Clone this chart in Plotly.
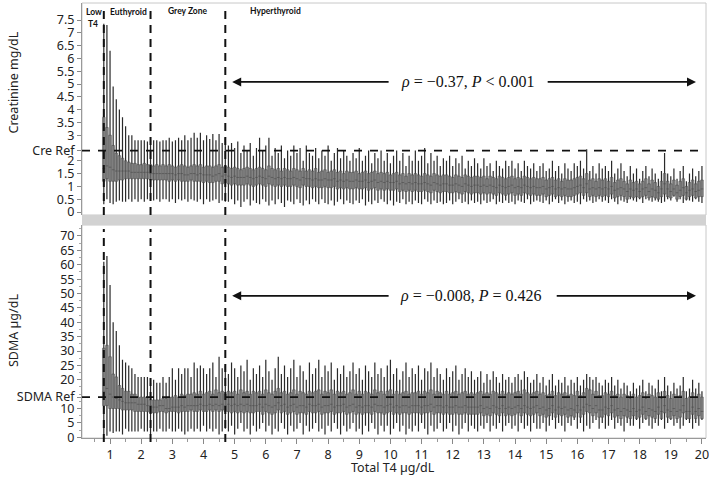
import plotly.graph_objects as go

# ---------------- data ----------------
t4 = [0.8, 0.9, 1.0, 1.1, 1.2, 1.3, 1.4, 1.5, 1.6, 1.7,
      1.8, 1.9, 2.0, 2.1, 2.2, 2.3, 2.4, 2.5, 2.6, 2.7,
      2.8, 2.9, 3.0, 3.1, 3.2, 3.3, 3.4, 3.5, 3.6, 3.7,
      3.8, 3.9, 4.0, 4.1, 4.2, 4.3, 4.4, 4.5, 4.6, 4.7,
      4.8, 4.9, 5.0, 5.1, 5.2, 5.3, 5.4, 5.5, 5.6, 5.7,
      5.8, 5.9, 6.0, 6.1, 6.2, 6.3, 6.4, 6.5, 6.6, 6.7,
      6.8, 6.9, 7.0, 7.1, 7.2, 7.3, 7.4, 7.5, 7.6, 7.7,
      7.8, 7.9, 8.0, 8.1, 8.2, 8.3, 8.4, 8.5, 8.6, 8.7,
      8.8, 8.9, 9.0, 9.1, 9.2, 9.3, 9.4, 9.5, 9.6, 9.7,
      9.8, 9.9, 10.0, 10.1, 10.2, 10.3, 10.4, 10.5, 10.6, 10.7,
      10.8, 10.9, 11.0, 11.1, 11.2, 11.3, 11.4, 11.5, 11.6, 11.7,
      11.8, 11.9, 12.0, 12.1, 12.2, 12.3, 12.4, 12.5, 12.6, 12.7,
      12.8, 12.9, 13.0, 13.1, 13.2, 13.3, 13.4, 13.5, 13.6, 13.7,
      13.8, 13.9, 14.0, 14.1, 14.2, 14.3, 14.4, 14.5, 14.6, 14.7,
      14.8, 14.9, 15.0, 15.1, 15.2, 15.3, 15.4, 15.5, 15.6, 15.7,
      15.8, 15.9, 16.0, 16.1, 16.2, 16.3, 16.4, 16.5, 16.6, 16.7,
      16.8, 16.9, 17.0, 17.1, 17.2, 17.3, 17.4, 17.5, 17.6, 17.7,
      17.8, 17.9, 18.0, 18.1, 18.2, 18.3, 18.4, 18.5, 18.6, 18.7,
      18.8, 18.9, 19.0, 19.1, 19.2, 19.3, 19.4, 19.5, 19.6, 19.7,
      19.8, 19.9, 20.0]

# Creatinine (mg/dL) per T4 bin
cre_max = [7.35, 7.3, 6.3, 4.9, 4.4, 4.0, 3.7, 3.35, 3.0, 3.0,
           2.8, 2.8, 2.8, 2.8, 2.75, 2.8, 2.8, 2.8, 2.75, 2.8,
           2.8, 2.9, 2.75, 2.8, 2.9, 2.8, 3.0, 2.8, 2.9, 3.1,
           2.9, 3.1, 2.8, 3.0, 2.85, 3.05, 2.8, 3.05, 2.7, 2.9,
           2.6, 2.7, 2.5, 2.75, 2.3, 2.6, 2.4, 2.7, 2.2, 2.5,
           2.9, 2.4, 2.6, 2.9, 2.2, 2.5, 2.3, 2.6, 2.1, 2.4,
           2.2, 2.6, 2.3, 2.5, 2.0, 2.6, 2.3, 2.2, 2.5, 2.1,
           2.4, 2.2, 2.6, 2.0, 2.3, 2.5, 2.1, 2.4, 2.2, 2.0,
           2.3, 2.1, 2.5, 2.0, 2.2, 2.4, 1.9, 2.3, 2.1, 2.4,
           2.0, 2.3, 1.9, 2.2, 2.4, 2.0, 2.3, 1.8, 2.2, 2.0,
           2.4, 2.0, 2.2, 2.5, 1.9, 2.3, 2.0, 2.2, 1.8, 2.1,
           2.0, 2.2, 1.8, 2.1, 1.9, 2.2, 1.7, 2.0, 1.8, 2.1,
           1.9, 1.7, 2.1, 1.8, 1.9, 1.6, 2.0, 1.8, 1.7, 2.0,
           1.8, 2.0, 1.7, 1.9, 1.6, 2.0, 1.8, 1.7, 1.9, 1.6,
           1.8, 1.9, 1.6, 1.7, 2.0, 1.6, 1.8, 1.5, 1.9, 1.7,
           1.6, 1.9, 1.8, 2.0, 1.7, 2.45, 1.6, 1.8, 1.5, 1.9,
           1.7, 1.8, 1.6, 2.0, 1.5, 1.7, 1.9, 1.6, 1.4, 1.8,
           1.5, 1.7, 1.3, 1.6, 1.8, 1.4, 1.7, 1.5, 1.3, 1.6,
           2.3, 1.5, 1.4, 1.7, 1.3, 1.6, 1.8, 1.2, 1.5, 1.7,
           1.4, 1.6, 1.8]
cre_q3 = [3.7, 3.3, 3.0, 2.6, 2.3, 2.2, 2.1, 2.0, 1.95, 1.9,
          1.9, 1.85, 1.85, 1.9, 1.85, 1.85, 1.8, 1.85, 1.8, 1.85,
          1.8, 1.85, 1.8, 1.75, 1.8, 1.85, 1.8, 1.75, 1.8, 1.85,
          1.8, 1.85, 1.75, 1.8, 1.8, 1.75, 1.8, 1.85, 1.75, 1.8,
          1.75, 1.7, 1.75, 1.7, 1.65, 1.7, 1.75, 1.7, 1.65, 1.7,
          1.75, 1.7, 1.65, 1.8, 1.7, 1.65, 1.7, 1.6, 1.7, 1.65,
          1.6, 1.7, 1.65, 1.6, 1.7, 1.6, 1.65, 1.6, 1.7, 1.55,
          1.6, 1.65, 1.55, 1.6, 1.65, 1.55, 1.6, 1.5, 1.6, 1.55,
          1.55, 1.6, 1.5, 1.55, 1.6, 1.5, 1.55, 1.6, 1.5, 1.55,
          1.5, 1.55, 1.45, 1.5, 1.55, 1.45, 1.5, 1.4, 1.5, 1.45,
          1.5, 1.45, 1.4, 1.5, 1.45, 1.4, 1.5, 1.45, 1.4, 1.45,
          1.45, 1.4, 1.35, 1.45, 1.4, 1.35, 1.45, 1.4, 1.35, 1.4,
          1.4, 1.35, 1.4, 1.3, 1.4, 1.35, 1.3, 1.4, 1.35, 1.3,
          1.35, 1.4, 1.3, 1.35, 1.3, 1.4, 1.35, 1.3, 1.35, 1.3,
          1.3, 1.35, 1.25, 1.3, 1.35, 1.25, 1.3, 1.2, 1.3, 1.25,
          1.25, 1.3, 1.35, 1.4, 1.3, 1.5, 1.25, 1.3, 1.2, 1.3,
          1.25, 1.3, 1.2, 1.35, 1.15, 1.25, 1.3, 1.2, 1.1, 1.25,
          1.15, 1.2, 1.1, 1.2, 1.3, 1.1, 1.25, 1.15, 1.0, 1.2,
          1.5, 1.2, 1.1, 1.25, 1.05, 1.2, 1.3, 1.0, 1.15, 1.25,
          1.1, 1.2, 1.25]
cre_med = [1.7, 1.8, 1.75, 1.65, 1.6, 1.6, 1.6, 1.6, 1.6, 1.55,
           1.55, 1.55, 1.55, 1.55, 1.55, 1.5, 1.5, 1.5, 1.5, 1.5,
           1.5, 1.5, 1.5, 1.45, 1.5, 1.5, 1.45, 1.45, 1.5, 1.5,
           1.45, 1.5, 1.45, 1.45, 1.45, 1.4, 1.45, 1.5, 1.4, 1.45,
           1.4, 1.35, 1.4, 1.35, 1.35, 1.35, 1.4, 1.35, 1.3, 1.35,
           1.4, 1.35, 1.3, 1.4, 1.35, 1.3, 1.35, 1.3, 1.35, 1.3,
           1.3, 1.35, 1.3, 1.25, 1.35, 1.3, 1.3, 1.25, 1.3, 1.25,
           1.25, 1.3, 1.25, 1.25, 1.3, 1.2, 1.25, 1.2, 1.25, 1.2,
           1.2, 1.25, 1.2, 1.2, 1.25, 1.15, 1.2, 1.25, 1.15, 1.2,
           1.15, 1.2, 1.15, 1.15, 1.2, 1.1, 1.15, 1.1, 1.15, 1.1,
           1.15, 1.1, 1.1, 1.15, 1.1, 1.05, 1.15, 1.1, 1.05, 1.1,
           1.1, 1.05, 1.05, 1.1, 1.05, 1.0, 1.1, 1.05, 1.0, 1.05,
           1.05, 1.0, 1.05, 1.0, 1.05, 1.0, 0.95, 1.05, 1.0, 0.95,
           1.0, 1.05, 0.95, 1.0, 0.95, 1.05, 1.0, 0.95, 1.0, 0.95,
           0.95, 1.0, 0.9, 0.95, 1.0, 0.9, 0.95, 0.9, 0.95, 0.9,
           0.9, 0.95, 1.0, 1.05, 0.95, 1.1, 0.9, 0.95, 0.9, 0.95,
           0.9, 0.95, 0.9, 1.0, 0.85, 0.9, 0.95, 0.9, 0.8, 0.9,
           0.85, 0.9, 0.8, 0.9, 0.95, 0.8, 0.9, 0.85, 0.75, 0.9,
           1.1, 0.9, 0.8, 0.9, 0.75, 0.85, 0.95, 0.75, 0.85, 0.9,
           0.8, 0.85, 0.9]
cre_q1 = [1.2, 1.3, 1.2, 1.2, 1.2, 1.25, 1.25, 1.3, 1.3, 1.3,
          1.3, 1.3, 1.3, 1.3, 1.3, 1.25, 1.25, 1.25, 1.25, 1.25,
          1.25, 1.2, 1.25, 1.2, 1.25, 1.2, 1.2, 1.2, 1.25, 1.2,
          1.2, 1.2, 1.15, 1.2, 1.15, 1.15, 1.2, 1.2, 1.1, 1.15,
          1.1, 1.05, 1.1, 1.05, 1.05, 1.05, 1.1, 1.05, 1.0, 1.05,
          1.1, 1.05, 1.0, 1.1, 1.05, 1.0, 1.05, 1.0, 1.05, 1.0,
          1.0, 1.05, 1.0, 0.95, 1.05, 1.0, 1.0, 0.95, 1.0, 0.95,
          0.95, 1.0, 0.95, 0.95, 1.0, 0.9, 0.95, 0.9, 0.95, 0.9,
          0.9, 0.95, 0.9, 0.9, 0.95, 0.85, 0.9, 0.95, 0.85, 0.9,
          0.85, 0.9, 0.85, 0.85, 0.9, 0.8, 0.85, 0.8, 0.85, 0.8,
          0.85, 0.8, 0.8, 0.85, 0.8, 0.75, 0.85, 0.8, 0.75, 0.8,
          0.8, 0.75, 0.75, 0.8, 0.75, 0.7, 0.8, 0.75, 0.7, 0.75,
          0.75, 0.7, 0.75, 0.7, 0.75, 0.7, 0.65, 0.75, 0.7, 0.65,
          0.7, 0.75, 0.65, 0.7, 0.65, 0.75, 0.7, 0.65, 0.7, 0.65,
          0.65, 0.7, 0.6, 0.65, 0.7, 0.6, 0.65, 0.6, 0.65, 0.6,
          0.6, 0.65, 0.7, 0.75, 0.65, 0.75, 0.6, 0.65, 0.6, 0.65,
          0.6, 0.65, 0.6, 0.7, 0.55, 0.6, 0.65, 0.6, 0.5, 0.6,
          0.55, 0.6, 0.55, 0.6, 0.65, 0.55, 0.6, 0.55, 0.5, 0.6,
          0.7, 0.6, 0.55, 0.65, 0.5, 0.6, 0.65, 0.5, 0.6, 0.65,
          0.55, 0.6, 0.6]
cre_min = [0.3, 0.5, 0.35, 0.3, 0.4, 0.45, 0.4, 0.4, 0.5, 0.4,
           0.5, 0.4, 0.5, 0.4, 0.5, 0.5, 0.45, 0.5, 0.4, 0.5,
           0.5, 0.4, 0.5, 0.35, 0.5, 0.45, 0.5, 0.4, 0.5, 0.45,
           0.4, 0.5, 0.3, 0.5, 0.4, 0.45, 0.5, 0.35, 0.45, 0.4,
           0.4, 0.5, 0.3, 0.45, 0.2, 0.4, 0.5, 0.25, 0.45, 0.35,
           0.3, 0.5, 0.4, 0.25, 0.45, 0.3, 0.5, 0.35, 0.2, 0.45,
           0.4, 0.3, 0.5, 0.35, 0.25, 0.45, 0.3, 0.5, 0.4, 0.3,
           0.5, 0.35, 0.3, 0.45, 0.25, 0.4, 0.5, 0.3, 0.45, 0.35,
           0.3, 0.45, 0.35, 0.5, 0.25, 0.4, 0.3, 0.45, 0.35, 0.5,
           0.4, 0.3, 0.45, 0.25, 0.4, 0.35, 0.5, 0.3, 0.4, 0.3,
           0.45, 0.35, 0.3, 0.5, 0.4, 0.3, 0.45, 0.35, 0.4, 0.3,
           0.35, 0.45, 0.3, 0.4, 0.5, 0.35, 0.4, 0.3, 0.45, 0.35,
           0.4, 0.3, 0.45, 0.35, 0.4, 0.5, 0.3, 0.4, 0.35, 0.45,
           0.35, 0.4, 0.3, 0.45, 0.4, 0.35, 0.5, 0.3, 0.4, 0.45,
           0.4, 0.35, 0.45, 0.3, 0.4, 0.5, 0.35, 0.45, 0.3, 0.4,
           0.45, 0.35, 0.4, 0.3, 0.5, 0.4, 0.45, 0.35, 0.4, 0.5,
           0.4, 0.45, 0.35, 0.5, 0.4, 0.3, 0.45, 0.4, 0.35, 0.5,
           0.45, 0.4, 0.5, 0.35, 0.5, 0.45, 0.4, 0.45, 0.4, 0.35,
           0.4, 0.5, 0.45, 0.6, 0.4, 0.5, 0.35, 0.45, 0.45, 0.4,
           0.5, 0.4, 0.35]

# SDMA (ug/dL) per T4 bin
sd_max = [61, 63, 53, 40, 37, 32, 27, 26, 25, 24,
          22, 21, 21, 21, 21, 19, 20, 19, 19, 21,
          19, 21, 24, 20, 24, 22, 24, 24, 21, 26,
          24, 25, 24, 22, 24, 26, 21, 28, 24, 25,
          22, 26, 24, 21, 25, 23, 27, 20, 24, 22,
          25, 21, 27, 23, 20, 24, 28, 22, 25, 21,
          24, 27, 21, 25, 23, 20, 26, 22, 24, 27,
          21, 25, 23, 26, 20, 24, 22, 25, 21, 23,
          26, 22, 24, 20, 25, 23, 21, 26, 22, 24,
          21, 25, 27, 22, 24, 20, 23, 26, 21, 24,
          22, 25, 20, 24, 23, 26, 21, 24, 22, 20,
          24, 21, 23, 25, 20, 22, 24, 21, 23, 20,
          21, 23, 19, 22, 20, 23, 21, 19, 22, 20,
          21, 19, 21, 22, 20, 23, 21, 19, 20, 22,
          19, 21, 18, 20, 22, 18, 20, 19, 21, 18,
          20, 19, 21, 18, 20, 22, 21, 20, 21, 19,
          18, 20, 19, 21, 18, 20, 17, 19, 18, 16,
          19, 17, 18, 20, 16, 19, 18, 17, 20, 16,
          21, 18, 16, 19, 17, 18, 21, 16, 17, 20,
          17, 19, 16]
sd_q3 = [31, 32, 28, 22, 21, 18, 17, 16, 16, 15,
         15, 14, 14, 14, 14, 13, 13, 13, 13, 13.5,
         13.5, 14, 14, 14.5, 14, 15, 14.5, 15, 15, 15.5,
         15, 16, 15, 15.5, 16, 15, 16.5, 15.5, 16, 15,
         16, 15.5, 16, 15, 16.5, 15.5, 16, 15, 16, 15.5,
         16, 15, 16.5, 15.5, 15, 16, 17, 15.5, 16, 15,
         15.5, 16.5, 15, 16, 15.5, 15, 16, 15.5, 16, 16.5,
         15, 16, 15.5, 16.5, 15, 16, 15.5, 16, 15, 15.5,
         16.5, 15, 16, 15, 16, 15.5, 15, 16.5, 15.5, 16,
         15, 16, 16.5, 15, 16, 15, 15.5, 16, 15, 15.5,
         15.5, 16, 15, 16, 15.5, 16.5, 15, 16, 15.5, 15,
         16, 15, 15.5, 16, 15, 15.5, 16, 15, 15.5, 15,
         15.5, 16, 15, 15.5, 15, 16, 15.5, 15, 16, 15,
         15.5, 15, 15.5, 16, 15, 16.5, 15.5, 15, 15.5, 16,
         15, 15.5, 14.5, 15, 16, 14.5, 15.5, 15, 15.5, 14.5,
         15, 14.5, 16, 14.5, 15.5, 17, 16.5, 15, 16, 14.5,
         14.5, 15.5, 15, 16, 14.5, 15, 14, 15, 14.5, 13.5,
         15, 14, 14.5, 15.5, 13.5, 15, 14.5, 14, 15.5, 13.5,
         16, 14.5, 13.5, 15, 14, 14.5, 16, 13.5, 14, 15.5,
         14, 15, 14]
sd_med = [16, 17, 15, 14, 13.5, 13, 12.5, 12, 12, 12,
          12, 11.5, 11.5, 11.5, 11, 11, 10.5, 10.5, 11, 11,
          10, 10, 10.5, 10.5, 10.5, 11, 10.5, 11, 11, 11,
          11, 11.5, 11, 11, 11.5, 11, 11.5, 11, 11.5, 11,
          11.5, 11, 11.5, 11, 11.5, 11, 11.5, 11, 11, 11,
          11.5, 10.5, 11.5, 11, 10.5, 11, 12, 11, 11.5, 10.5,
          11, 11.5, 10.5, 11, 11, 10.5, 11.5, 11, 11, 11.5,
          10.5, 11, 11, 11.5, 10.5, 11, 11, 11.5, 10.5, 11,
          11.5, 10.5, 11, 10.5, 11, 11, 10.5, 11.5, 11, 11,
          10.5, 11, 11.5, 10.5, 11, 10.5, 11, 11, 10.5, 11,
          11, 11, 10.5, 11, 11, 11.5, 10.5, 11, 11, 10.5,
          11, 10.5, 10.5, 11, 10.5, 10.5, 11, 10.5, 10.5, 10.5,
          10.5, 11, 10, 10.5, 10, 11, 10.5, 10, 11, 10,
          10.5, 10, 10.5, 11, 10, 11, 10.5, 10, 10.5, 11,
          10, 10.5, 9.5, 10, 11, 9.5, 10.5, 10, 10.5, 9.5,
          10, 9.5, 11, 9.5, 10.5, 11.5, 11, 10, 11, 9.5,
          9.5, 10.5, 10, 11, 9.5, 10, 9, 10, 9.5, 9,
          10, 9, 9.5, 10.5, 9, 10, 9.5, 9, 10.5, 9,
          11, 9.5, 9, 10, 9, 9.5, 11, 9, 9, 10.5,
          9, 10, 9]
sd_q1 = [11, 11, 10, 10, 10, 10, 9.5, 9.5, 9.5, 9.5,
         9, 9, 9, 9, 9, 8.5, 8.5, 8.5, 9, 9,
         8.5, 9, 9, 9, 8.5, 9, 9, 9, 9.5, 9,
         9, 9.5, 9, 9, 9.5, 9, 9.5, 9, 9.5, 9,
         9, 8.5, 9, 8.5, 9, 8.5, 9, 8.5, 8.5, 9,
         9, 8, 9, 8.5, 8, 8.5, 9.5, 8.5, 9, 8,
         8.5, 9, 8, 8.5, 8.5, 8, 9, 8.5, 8.5, 9,
         8, 8.5, 8.5, 9, 8, 8.5, 8.5, 9, 8, 8.5,
         9, 8, 8.5, 8, 8.5, 8.5, 8, 9, 8.5, 8.5,
         8, 8.5, 9, 8, 8.5, 8, 8.5, 8.5, 8, 8.5,
         8.5, 8.5, 8, 8.5, 8.5, 9, 8, 8.5, 8.5, 8,
         8.5, 8, 8, 8.5, 8, 8, 8.5, 8, 8, 8,
         8, 8.5, 7.5, 8, 7.5, 8.5, 8, 7.5, 8.5, 7.5,
         8, 7.5, 8, 8.5, 7.5, 8.5, 8, 7.5, 8, 8.5,
         7.5, 8, 7, 7.5, 8.5, 7, 8, 7.5, 8, 7,
         7.5, 7, 8.5, 7, 8, 9, 8.5, 7.5, 8.5, 7,
         7, 8, 7.5, 8.5, 7, 7.5, 6.5, 7.5, 7, 6.5,
         7.5, 6.5, 7, 8, 6.5, 7.5, 7, 6.5, 8, 6.5,
         8.5, 7, 6.5, 7.5, 6.5, 7, 8.5, 6.5, 6.5, 8,
         6.5, 7.5, 6.5]
sd_min = [1, 0.5, 2, 1.5, 2, 2, 1, 3, 2, 2,
          2, 2, 3, 2, 2, 1, 2, 2, 3, 2,
          2, 3, 2, 2, 3, 2, 1, 2, 3, 2,
          3, 2, 4, 2, 3, 2, 3, 1, 2, 3,
          2, 4, 1, 3, 5, 2, 3, 1, 4, 2,
          3, 5, 2, 4, 1, 3, 2, 5, 3, 1,
          4, 2, 3, 5, 1, 4, 2, 3, 5, 2,
          3, 1, 4, 2, 5, 3, 1, 4, 2, 3,
          5, 2, 3, 1, 4, 2, 5, 3, 1, 4,
          2, 4, 1, 3, 5, 2, 4, 1, 3, 2,
          4, 2, 5, 3, 1, 4, 2, 3, 5, 2,
          3, 5, 2, 4, 1, 3, 5, 2, 4, 3,
          2, 4, 3, 5, 2, 4, 3, 5, 2, 4,
          5, 3, 4, 2, 5, 3, 4, 2, 5, 3,
          3, 5, 2, 4, 6, 3, 5, 4, 2, 5,
          4, 6, 3, 5, 2, 4, 3, 5, 6, 3,
          5, 3, 4, 6, 3, 5, 4, 2, 5, 4,
          4, 6, 3, 5, 6, 4, 3, 5, 4, 6,
          3, 5, 6, 4, 5, 3, 4, 6, 5, 3,
          5, 4, 6]

cre_ticks = [0, 0.5, 1, 1.5, 2, 2.4, 3, 3.5, 4, 4.5, 5, 5.5, 6, 6.5, 7, 7.5]
cre_ticktext = ["0", "0.5", "1", "1.5", "2", "Cre Ref", "3", "3.5", "4", "4.5",
                "5", "5.5", "6", "6.5", "7", "7.5"]
sd_ticks = [0, 5, 10, 14, 20, 25, 30, 35, 40, 45, 50, 55, 60, 65, 70]
sd_ticktext = ["0", "5", "10", "SDMA Ref", "20", "25", "30", "35", "40", "45",
               "50", "55", "60", "65", "70"]
x_ticks = list(range(1, 21))

cre_ref = 2.4
sdma_ref = 14
cut_points = [0.8, 2.3, 4.7]
zone_labels = ["Low", "T4", "Euthyroid", "Grey Zone", "Hyperthyroid"]

# ---------------- geometry helpers ----------------
W, H = 709, 478
ML, MR, MT, MB = 82, 3, 3, 40
PW, PH = W - ML - MR, H - MT - MB


def px_x(p):
    return (p - ML) / PW


def px_y(p):
    return (H - MB - p) / PH


top_dom = [px_y(215), 1.0]
bot_dom = [0.0, px_y(225)]

fig = go.Figure()

WHISK = dict(color="#2a2a2a", width=1.2)
BOXL = dict(color="#4a4a4a", width=0.6)
BOXF = "rgba(130,130,130,0.6)"


def add_panel(xa, ya, lo, q1, med, q3, hi):
    # whiskers (min to max)
    fig.add_trace(go.Box(x=t4, q1=med, median=med, q3=med, lowerfence=lo,
                         upperfence=hi, width=0.001, whiskerwidth=0,
                         line=WHISK, fillcolor="rgba(0,0,0,0)",
                         boxpoints=False, hoverinfo="skip",
                         xaxis=xa, yaxis=ya, showlegend=False))
    # boxes (q1 to q3, median)
    fig.add_trace(go.Box(x=t4, q1=q1, median=med, q3=q3, lowerfence=q1,
                         upperfence=q3, width=0.085, whiskerwidth=0,
                         line=BOXL, fillcolor=BOXF, boxpoints=False,
                         hoverinfo="skip", xaxis=xa, yaxis=ya,
                         showlegend=False))


add_panel("x", "y", cre_min, cre_q1, cre_med, cre_q3, cre_max)
add_panel("x2", "y2", sd_min, sd_q1, sd_med, sd_q3, sd_max)

tickfont = dict(family="Noto Sans, Open Sans, sans-serif", size=12.5, color="#222")
xr = [0.1, 20.13]

fig.update_layout(
    width=W, height=H,
    margin=dict(l=ML, r=MR, t=MT, b=MB, autoexpand=False),
    plot_bgcolor="white", paper_bgcolor="white",
    showlegend=False,
    xaxis=dict(domain=[0, 1], anchor="y", range=xr, autorange=False,
               showticklabels=False, automargin=False,
               ticks="", showgrid=False, zeroline=False, showline=False),
    xaxis2=dict(domain=[0, 1], anchor="y2", range=xr, autorange=False,
                automargin=False, ticklabeloverflow="allow",
                tickvals=x_ticks, ticks="outside", ticklen=5, tickcolor="#888",
                tickfont=tickfont, showgrid=False, zeroline=False,
                showline=True, linecolor="#999", linewidth=1,
                minor=dict(dtick=0.5, ticklen=3, tickcolor="#999", ticks="outside")),
    yaxis=dict(domain=top_dom, anchor="x", range=[-0.117, 8.164], autorange=False,
               automargin=False, ticklabeloverflow="allow",
               tickvals=cre_ticks, ticktext=cre_ticktext, ticks="outside",
               ticklen=4, tickcolor="#888", tickfont=tickfont, showgrid=False,
               zeroline=False, showline=True, linecolor="#999", linewidth=1),
    yaxis2=dict(domain=bot_dom, anchor="x2", range=[-0.24, 73.82], autorange=False,
                automargin=False, ticklabeloverflow="allow",
                tickvals=sd_ticks, ticktext=sd_ticktext, ticks="outside",
                ticklen=4, tickcolor="#888", tickfont=tickfont, showgrid=False,
                zeroline=False, showline=True, linecolor="#999", linewidth=1,
                minor=dict(dtick=2.5, ticklen=2, tickcolor="#aaa", ticks="outside")),
)

shapes = []
# panel frames
shapes.append(dict(type="rect", xref="paper", yref="paper", x0=0, x1=1,
                   y0=top_dom[0], y1=top_dom[1], line=dict(color="#c8c8c8", width=1),
                   fillcolor="rgba(0,0,0,0)", layer="below"))
shapes.append(dict(type="rect", xref="paper", yref="paper", x0=0, x1=1,
                   y0=bot_dom[0], y1=bot_dom[1], line=dict(color="#c8c8c8", width=1),
                   fillcolor="rgba(0,0,0,0)", layer="below"))
# grey separator band
shapes.append(dict(type="rect", xref="paper", yref="paper", x0=0, x1=1,
                   y0=bot_dom[1], y1=top_dom[0], line=dict(width=0),
                   fillcolor="#d2d2d2"))
# reference lines
shapes.append(dict(type="line", xref="paper", yref="y", x0=0, x1=1,
                   y0=cre_ref, y1=cre_ref, line=dict(color="#111", width=1.8, dash="8px,8px")))
shapes.append(dict(type="line", xref="paper", yref="y2", x0=0, x1=1,
                   y0=sdma_ref, y1=sdma_ref, line=dict(color="#111", width=1.8, dash="8px,8px")))
# cut-point lines
for c in cut_points:
    shapes.append(dict(type="line", xref="x", yref="paper", x0=c, x1=c,
                       y0=top_dom[0], y1=px_y(9),
                       line=dict(color="#111", width=2, dash="8px,6px")))
    shapes.append(dict(type="line", xref="x", yref="paper", x0=c, x1=c,
                       y0=px_y(442), y1=px_y(229),
                       line=dict(color="#111", width=2, dash="8px,6px")))
fig.update_layout(shapes=shapes)

ann = []
zf = dict(family="Lato, Noto Sans, sans-serif", size=8.5, color="#111")
zone_pos = [(94, 12), (93, 24), (128.5, 12), (187.5, 11.5), (275.5, 11.5)]
for lab, (px, py) in zip(zone_labels, zone_pos):
    ann.append(dict(text="<b>%s</b>" % lab, xref="paper", yref="paper",
                    x=px_x(px), y=px_y(py), showarrow=False, font=zf,
                    xanchor="center", yanchor="middle"))

rho_font = dict(family="Liberation Serif, DejaVu Serif, serif", size=16, color="#111")
ann.append(dict(text="<i>ρ</i> = −0.37, <i>P</i> &lt; 0.001", xref="x", yref="y",
                x=12.48, y=5.08, showarrow=False, font=rho_font,
                xanchor="center", yanchor="middle"))
ann.append(dict(text="<i>ρ</i> = −0.008, <i>P</i> = 0.426", xref="x2", yref="y2",
                x=12.6, y=49.2, showarrow=False, font=rho_font,
                xanchor="center", yanchor="middle"))

arr = dict(showarrow=True, text="", arrowhead=2, arrowsize=1, arrowwidth=1.8,
           arrowcolor="#111", standoff=0, startstandoff=0)
ann.append(dict(xref="x", yref="y", axref="x", ayref="y", x=4.92, y=5.08,
                ax=9.99, ay=5.08, **arr))
ann.append(dict(xref="x", yref="y", axref="x", ayref="y", x=19.81, y=5.08,
                ax=15.0, ay=5.08, **arr))
ann.append(dict(xref="x2", yref="y2", axref="x2", ayref="y2", x=4.92, y=49.2,
                ax=9.99, ay=49.2, **arr))
ann.append(dict(xref="x2", yref="y2", axref="x2", ayref="y2", x=19.81, y=49.2,
                ax=15.29, ay=49.2, **arr))

tf = dict(family="Noto Sans, Open Sans, sans-serif", size=12.5, color="#222")
ann.append(dict(text="Creatinine mg/dL", xref="paper", yref="paper",
                x=px_x(13), y=px_y(82.5), textangle=-90, showarrow=False,
                font=tf, xanchor="center", yanchor="middle"))
ann.append(dict(text="SDMA µg/dL", xref="paper", yref="paper",
                x=px_x(13), y=px_y(331), textangle=-90, showarrow=False,
                font=tf, xanchor="center", yanchor="middle"))
ann.append(dict(text="Total T4 µg/dL", xref="paper", yref="paper",
                x=px_x(393), y=px_y(467), showarrow=False,
                font=tf, xanchor="center", yanchor="middle"))
fig.update_layout(annotations=ann)

fig.write_html("out.html", config={"displayModeBar": False},
               post_script="document.body.style.margin='0';document.body.style.padding='0';document.body.style.overflow='hidden';")
